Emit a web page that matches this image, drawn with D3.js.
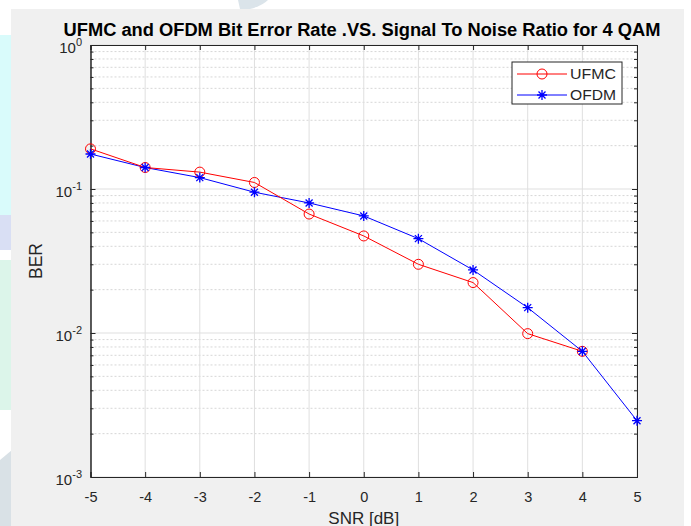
<!DOCTYPE html>
<html>
<head>
<meta charset="utf-8">
<script src="https://cdn.jsdelivr.net/npm/d3@7"></script>
<style>
  body { margin: 0; background: #fff; }
  text { font-family: "Liberation Sans", Arial, sans-serif; }
</style>
</head>
<body>
<div class="chart"></div>
<script>
const snr = [-5, -4, -3, -2, -1, 0, 1, 2, 3, 4, 5];
const ufmcBer = [0.190, 0.141, 0.131, 0.111, 0.067, 0.0472, 0.030, 0.0224, 0.0099, 0.00746];
const ofdmBer = [0.175, 0.141, 0.120, 0.095, 0.080, 0.065, 0.0452, 0.0274, 0.015, 0.00746, 0.00246];
const yDecades = [-3, -2, -1, 0];
const seriesNames = ["UFMC", "OFDM"];

function drawChart() {
    const w = 691, h = 526;
    const margin = { top: 45, right: 54, bottom: 49, left: 90.5 };
    const chartWidth = w - margin.left - margin.right;
    const chartHeight = h - margin.top - margin.bottom;

    const svg = d3.select(".chart").append("svg")
        .attr("width", w).attr("height", h);

    // decorative page background on the left / top
    svg.append("rect").attr("x", 0).attr("y", 35).attr("width", 12).attr("height", 160).attr("fill", "#d9fbfb");
    svg.append("path").attr("d", "M0,215 L12,195 L12,250 L0,250 Z").attr("fill", "#d9dff4");
    svg.append("rect").attr("x", 0).attr("y", 195).attr("width", 12).attr("height", 20).attr("fill", "#d9fbfb");
    svg.append("rect").attr("x", 0).attr("y", 260).attr("width", 12).attr("height", 150).attr("fill", "#dcf5ea");
    svg.append("path").attr("d", "M0,460 L12,450 L12,526 L0,526 Z").attr("fill", "#d9e1e6");
    svg.append("path").attr("d", "M238,0 L268,0 Q262,6 250,9 L240,9 Z").attr("fill", "#dbe4ea");

    // figure panel
    svg.append("rect").attr("x", 11).attr("y", 9).attr("width", 673).attr("height", h - 9).attr("fill", "#f0f0f0");

    const g = svg.append("g").attr("transform", `translate(${margin.left},${margin.top})`);

    const x = d3.scaleLinear().domain([-5, 5]).range([0, chartWidth]);
    const y = d3.scaleLog().domain([1e-3, 1]).range([chartHeight, 0]);

    g.append("rect").attr("width", chartWidth).attr("height", chartHeight).attr("fill", "#fff");

    // minor grid
    const minor = [];
    yDecades.slice(0, -1).forEach(d => { for (let k = 2; k <= 9; k++) minor.push(k * Math.pow(10, d)); });
    g.selectAll(".minor").data(minor).enter().append("line")
        .attr("x1", 0).attr("x2", chartWidth)
        .attr("y1", d => y(d)).attr("y2", d => y(d))
        .attr("stroke", "#d6d6d6").attr("stroke-width", 1).attr("stroke-dasharray", "2,2");

    // major grid
    g.selectAll(".gx").data(snr).enter().append("line")
        .attr("x1", d => x(d)).attr("x2", d => x(d))
        .attr("y1", 0).attr("y2", chartHeight)
        .attr("stroke", "#dfdfdf");
    g.selectAll(".gy").data(yDecades.map(d => Math.pow(10, d))).enter().append("line")
        .attr("x1", 0).attr("x2", chartWidth)
        .attr("y1", d => y(d)).attr("y2", d => y(d))
        .attr("stroke", "#dfdfdf");

    // axes
    const xAxis = d3.axisBottom(x).tickValues(snr).tickSize(-5).tickPadding(15).tickFormat(d => String(d));
    const xg = g.append("g").attr("transform", `translate(0,${chartHeight})`).call(xAxis);
    g.append("g").call(d3.axisTop(x).tickValues(snr).tickSize(-5).tickFormat(""));

    g.append("g").call(d3.axisLeft(y).tickValues(yDecades.map(d => Math.pow(10, d))).tickSize(-5).tickFormat(""));
    g.append("g").attr("transform", `translate(${chartWidth},0)`)
        .call(d3.axisRight(y).tickValues(yDecades.map(d => Math.pow(10, d))).tickSize(-5).tickFormat(""));
    g.append("g").call(d3.axisLeft(y).tickValues(minor).tickSize(-3).tickFormat(""));
    g.append("g").attr("transform", `translate(${chartWidth},0)`)
        .call(d3.axisRight(y).tickValues(minor).tickSize(-3).tickFormat(""));

    g.selectAll(".domain").attr("stroke", "#262626");
    g.selectAll(".tick line").attr("stroke", "#262626");
    xg.selectAll("text").attr("font-size", 14.5).attr("fill", "#262626");

    // y decade labels 10^n
    const yl = g.selectAll(".ylab").data(yDecades).enter().append("text")
        .attr("x", -8.5).attr("y", d => y(Math.pow(10, d)) + 8)
        .attr("text-anchor", "end").attr("fill", "#262626").attr("font-size", 15);
    yl.append("tspan").text("10");
    yl.append("tspan").attr("dy", -7).attr("font-size", 11).text(d => d);

    // series
    const ufmc = ufmcBer.map((v, i) => [snr[i], v]);
    const ofdm = ofdmBer.map((v, i) => [snr[i], v]);
    const line = d3.line().x(d => x(d[0])).y(d => y(d[1]));

    g.append("path").datum(ofdm).attr("d", line).attr("fill", "none").attr("stroke", "#0000ff").attr("stroke-width", 1);
    g.append("path").datum(ufmc).attr("d", line).attr("fill", "none").attr("stroke", "#ff0000").attr("stroke-width", 1);

    g.selectAll(".circ").data(ufmc).enter().append("circle")
        .attr("cx", d => x(d[0])).attr("cy", d => y(d[1])).attr("r", 5)
        .attr("fill", "none").attr("stroke", "#ff0000").attr("stroke-width", 1);

    const star = "M-5,0L5,0M0,-5L0,5M-3.5,-3.5L3.5,3.5M-3.5,3.5L3.5,-3.5";
    g.selectAll(".star").data(ofdm).enter().append("path")
        .attr("transform", d => `translate(${x(d[0])},${y(d[1])})`)
        .attr("d", star).attr("stroke", "#0000ff").attr("stroke-width", 1.3).attr("fill", "none");

    // legend
    const lg = svg.append("g").attr("transform", "translate(512,62)");
    lg.append("rect").attr("width", 110).attr("height", 42).attr("fill", "#fff").attr("stroke", "#262626");
    const colors = ["#ff0000", "#0000ff"];
    seriesNames.forEach((name, i) => {
        const ly = 12 + i * 21;
        lg.append("line").attr("x1", 5).attr("x2", 55).attr("y1", ly).attr("y2", ly).attr("stroke", colors[i]);
        if (i === 0) {
            lg.append("circle").attr("cx", 30).attr("cy", ly).attr("r", 5).attr("fill", "none").attr("stroke", colors[i]);
        } else {
            lg.append("path").attr("transform", `translate(30,${ly})`).attr("d", star).attr("stroke", colors[i]).attr("stroke-width", 1.3);
        }
        lg.append("text").attr("x", 58).attr("y", ly + 5).attr("font-size", 14)
            .attr("textLength", 46).attr("lengthAdjust", "spacingAndGlyphs")
            .attr("fill", "#262626").text(name);
    });

    // title and labels
    svg.append("text").attr("x", 362).attr("y", 36)
        .attr("text-anchor", "middle").attr("font-size", 18.3).attr("font-weight", "bold").attr("fill", "#000")
        .text("UFMC and OFDM Bit Error Rate .VS. Signal To Noise Ratio for 4 QAM");

    svg.append("text").attr("x", margin.left + chartWidth / 2).attr("y", 524)
        .attr("text-anchor", "middle").attr("font-size", 17).attr("fill", "#262626").text("SNR [dB]");

    svg.append("text").attr("transform", "rotate(-90)").attr("x", -261).attr("y", 42)
        .attr("text-anchor", "middle").attr("font-size", 17.5).attr("fill", "#262626").text("BER");
}

drawChart();
</script>
</body>
</html>
